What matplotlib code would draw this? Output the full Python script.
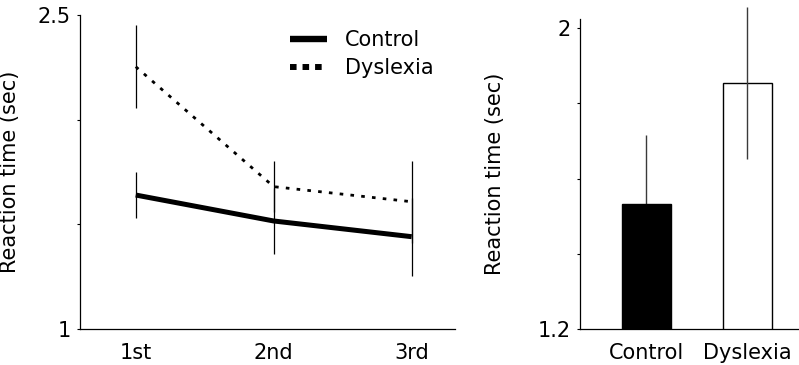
import matplotlib
matplotlib.use("Agg")
import matplotlib.pyplot as plt
from matplotlib.lines import Line2D

# ---- data ----
sessions = ["1st", "2nd", "3rd"]
control_rt = [1.640, 1.516, 1.441]
control_err = [0.112, 0.158, 0.186]
dyslexia_rt = [2.253, 1.680, 1.608]
dyslexia_err = [0.198, 0.123, 0.195]

groups = ["Control", "Dyslexia"]
group_rt = [1.533, 1.855]
group_err = [0.184, 0.203]

left_yticks = [1.0, 1.5, 2.0, 2.5]
left_yticklabels = ["1", "", "", "2.5"]
right_yticks = [1.2, 1.4, 1.6, 1.8, 2.0]
right_yticklabels = ["1.2", "", "", "", "2"]

FS = 15
plt.rcParams["font.family"] = ["DejaVu Sans"]
plt.rcParams["font.size"] = FS

fig = plt.figure(figsize=(7.99, 3.65), dpi=100)
ax1 = fig.add_axes([80 / 799, 36 / 365, 375 / 799, 314 / 365])
ax2 = fig.add_axes([580 / 799, 36 / 365, 219 / 799, (329 - 19.3) / 365])

xs = list(range(len(sessions)))

# left panel
ax1.errorbar(xs, dyslexia_rt, yerr=dyslexia_err, fmt="none", ecolor="black",
             elinewidth=0.9, capsize=0, zorder=2)
ax1.errorbar(xs, control_rt, yerr=control_err, fmt="none", ecolor="black",
             elinewidth=0.9, capsize=0, zorder=2)
ax1.plot(xs, control_rt, color="black", lw=3.6, solid_capstyle="butt", zorder=3)
ax1.plot(xs, dyslexia_rt, color="black", lw=2.0, dashes=(1.3, 2.6),
         dash_capstyle="butt", zorder=3)
ax1.set_xlim(-0.404, 2.314)
ax1.set_ylim(1.0, 2.5)
ax1.set_xticks(xs)
ax1.set_xticklabels(sessions)
ax1.set_yticks(left_yticks)
ax1.set_yticklabels(left_yticklabels)
ax1.set_ylabel("Reaction time (sec)")
ax1.yaxis.set_label_coords(-0.16, 0.5)

handles = [
    Line2D([], [], color="black", lw=4.6, solid_capstyle="butt"),
    Line2D([], [], color="black", lw=4.3, dashes=(1.1, 1.0), dash_capstyle="butt"),
]
ax1.legend(handles, ["Control", "Dyslexia"], loc="upper left",
           bbox_to_anchor=(0.56, 0.952), frameon=False, borderpad=0,
           borderaxespad=0, handlelength=1.78, handletextpad=0.87,
           labelspacing=0.39, fontsize=FS)

# right panel
gx = list(range(len(groups)))
ax2.bar(gx, group_rt, width=0.49, bottom=0, color=["black", "white"],
        edgecolor="black", linewidth=1.0, zorder=2)
for i in gx:
    eb = ax2.errorbar([gx[i]], [group_rt[i]], yerr=[group_err[i]], fmt="none",
                      ecolor="#3a3a3a", elinewidth=1.0, capsize=0,
                      zorder=1 if i == 0 else 3)
    for coll in eb.lines[2]:
        coll.set_clip_on(False)
ax2.set_xlim(-0.656, 1.51)
ax2.set_ylim(1.2, 2.024)
ax2.set_xticks(gx)
ax2.set_xticklabels(groups)
ax2.set_yticks(right_yticks)
ax2.set_yticklabels(right_yticklabels)
ax2.set_ylabel("Reaction time (sec)")
ax2.yaxis.set_label_coords(-0.342, 0.5)

for ax in (ax1, ax2):
    for s in ("top", "right"):
        ax.spines[s].set_visible(False)
    ax.spines["left"].set_linewidth(0.9)
    ax.spines["bottom"].set_linewidth(0.9)
    ax.tick_params(axis="y", direction="out", length=2.5, width=0.8, pad=4)
    ax.tick_params(axis="x", length=0, pad=10)

fig.savefig("out.png", dpi=100)
